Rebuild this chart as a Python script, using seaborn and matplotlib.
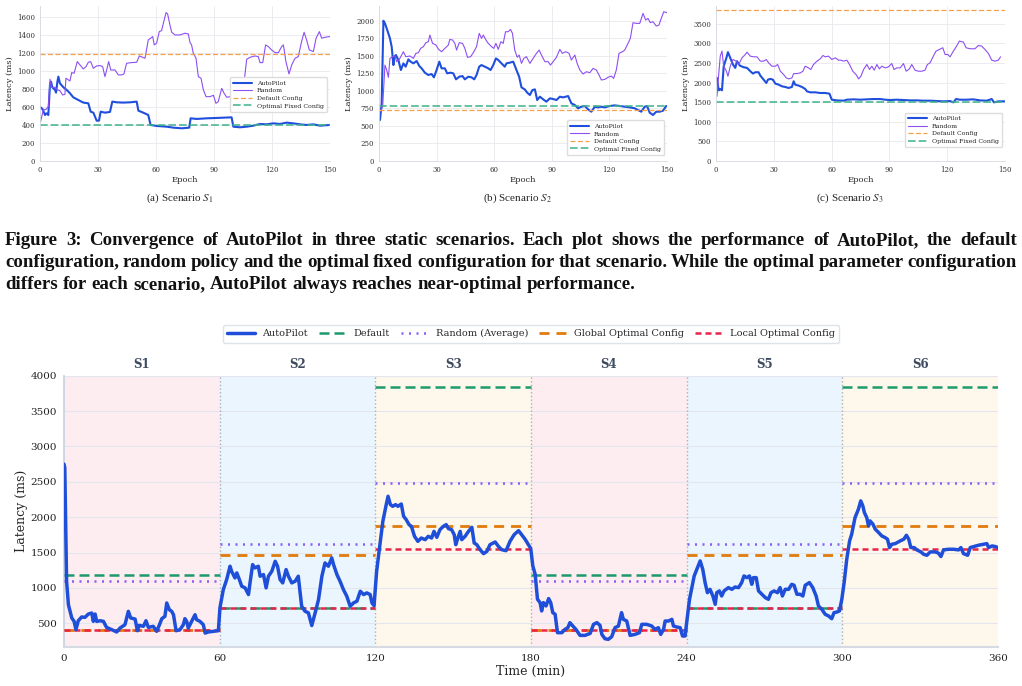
import seaborn as sns
import matplotlib.pyplot as plt
import pandas as pd

# ---- top row: three static scenarios (epoch 0..150) ----
a_auto_x = [0.3, 1.4, 2.6, 3.4, 4.3, 5.2, 5.7, 6.4, 7.8, 8.3, 9.0, 9.5, 10.3, 12.1, 13.8, 15.5, 17.2, 19.8, 22.4, 25.0,
            26.2, 27.6, 29.3, 30.5, 31.4, 33.6, 36.2, 37.4, 39.7, 43.1, 46.6, 50.0, 50.9, 53.4, 56.0, 57.2, 60.3, 65.5,
            69.0, 73.3, 77.2, 77.9, 81.0, 86.2, 91.4, 95.7, 99.1, 100.0, 103.4, 106.9, 110.3, 113.8, 117.2, 120.7,
            124.1, 127.6, 131.0, 134.5, 137.9, 141.4, 144.8, 147.4, 150]
a_auto_y = [598, 575, 512, 531, 512, 865, 883, 820, 791, 761, 883, 939, 865, 820, 791, 754, 709, 679, 650, 642,
            549, 538, 449, 449, 549, 538, 546, 661, 653, 650, 653, 661, 560, 538, 512, 401, 390, 382,
            371, 364, 371, 475, 468, 475, 479, 483, 486, 382, 375, 382, 393, 412, 408, 419,
            412, 427, 419, 408, 401, 408, 393, 397, 401]
a_rand_x = [0.3, 1.7, 3.1, 4.3, 5.2, 6.0, 7.8, 9.0, 10.3, 11.7, 12.9, 13.4, 14.7, 15.5, 16.4, 17.6, 19.3, 20.7, 22.4,
            23.8, 25.0, 26.2, 27.6, 29.3, 31.0, 32.4, 33.6, 34.5, 35.5, 36.6, 38.8, 40.5, 42.2, 43.4, 44.8, 47.4, 50.0,
            51.4, 53.1, 54.3, 56.0, 57.2, 58.3, 59.1, 60.3, 61.7, 62.9, 63.8, 65.2, 66.0, 67.2, 68.1, 69.8, 72.4, 75.0,
            76.7, 77.6, 78.4, 79.3, 80.7, 81.9, 83.3, 84.5, 85.9, 87.9, 89.7, 91.0, 92.2, 94.0, 95.2, 96.6, 98.3,
            100.0, 100.9, 102.6, 104.3, 105.7, 106.9, 108.6, 111.2, 112.9, 113.8, 115.2, 116.7, 118.1, 119.8, 121.6,
            123.3, 125.0, 125.9, 127.2, 128.8, 130.2, 131.9, 133.6, 135.3, 136.6, 137.9, 139.3, 141.4, 142.8, 144.5,
            145.7, 147.4, 150]
a_rand_y = [438, 568, 575, 605, 909, 820, 820, 791, 783, 735, 742, 921, 902, 891, 984, 976, 1106, 1069, 1025,
            1050, 1099, 1106, 1032, 1058, 1062, 1050, 939, 1013, 1106, 1013, 1013, 958, 958, 969, 1088, 1095, 1099,
            1169, 1154, 1143, 1347, 1366, 1385, 1292, 1310, 1440, 1451, 1533, 1652, 1637, 1515, 1433, 1403, 1403, 1422,
            1414, 1318, 1292, 1199, 1143, 939, 921, 791, 716, 716, 731, 642, 661, 809, 754, 709, 716,
            754, 809, 820, 820, 902, 1132, 1154, 1169, 1162, 1095, 1095, 1292, 1273, 1236, 1206,
            1206, 1273, 1292, 1106, 969, 1069, 1143, 1162, 1329, 1433, 1347, 1236, 1218, 1366, 1440,
            1366, 1377, 1385]

b_auto_x = [0.5, 1.4, 2.3, 3.1, 4.3, 5.7, 6.6, 7.5, 8.0, 8.8, 10.1, 11.4, 12.7, 13.9, 15.3, 16.5, 17.9, 19.6, 21.0,
            22.2, 23.9, 25.7, 27.4, 28.6, 30.0, 31.4, 32.6, 34.3, 35.5, 37.3, 38.7, 40.1, 41.8, 43.5, 44.7, 46.5, 48.2,
            49.6, 50.8, 52.2, 53.4, 55.1, 56.9, 58.1, 59.5, 60.9, 62.1, 63.8, 65.5, 66.4, 68.1, 69.9, 71.6, 73.0, 74.2,
            75.9, 77.2, 78.6, 79.9, 81.2, 82.4, 83.8, 85.5, 87.2, 89.0, 90.7, 92.4, 94.2, 95.9, 98.5, 100.2, 102.0,
            103.7, 105.4, 107.2, 108.9, 110.6, 112.4, 114.1, 115.8, 117.6, 120.2, 122.8, 125.4, 128.0, 130.6, 133.2,
            134.9, 136.6, 138.4, 139.6, 141.0, 142.7, 144.4, 146.2, 147.9, 149.6]
b_auto_y = [584, 822, 2000, 1962, 1867, 1748, 1630, 1368, 1487, 1511, 1440, 1297, 1392, 1345, 1449, 1416, 1392, 1425,
            1354, 1321, 1259, 1226, 1240, 1193, 1297, 1416, 1321, 1321, 1250, 1259, 1250, 1164, 1202, 1211, 1164, 1202,
            1193, 1164, 1226, 1345, 1368, 1345, 1321, 1297, 1368, 1463, 1440, 1392, 1345, 1392, 1402, 1416, 1297, 1202,
            1050, 1021, 974, 941, 1012, 1021, 869, 917, 879, 846, 893, 884, 869, 917, 907, 926, 822, 798,
            751, 774, 784, 736, 703, 774, 765, 774, 765, 784, 793, 784, 774, 765, 751,
            727, 703, 774, 784, 689, 656, 703, 703, 717, 784]
b_rand_x = [0.5, 1.9, 3.1, 4.0, 4.9, 5.7, 7.1, 8.3, 9.2, 10.6, 11.8, 12.7, 14.0, 16.1, 17.9, 19.2, 20.5, 21.7, 23.1,
            24.4, 25.7, 26.5, 27.9, 29.7, 31.0, 32.6, 34.3, 36.1, 36.9, 38.3, 39.5, 40.4, 41.8, 43.5, 44.7, 46.1, 47.7,
            49.1, 50.8, 52.2, 53.4, 54.3, 55.7, 56.9, 58.6, 59.8, 60.9, 62.1, 63.5, 64.7, 65.9, 67.3, 68.5, 69.5, 70.7,
            72.0, 73.0, 74.2, 75.4, 76.8, 78.6, 80.3, 82.0, 83.4, 84.6, 86.4, 88.1, 89.3, 90.7, 92.4, 94.2, 95.5,
            97.3, 99.0, 100.2, 102.0, 103.2, 104.6, 106.3, 108.0, 109.8, 111.5, 113.2, 114.6, 115.8, 117.6, 119.3,
            121.0, 122.2, 123.6, 125.0, 126.8, 128.0, 129.7, 130.9, 132.3, 134.0, 135.8, 137.5, 138.9, 140.1, 141.3,
            142.7, 144.4, 145.8, 147.0, 148.3, 150]
b_rand_y = [703, 774, 1368, 1297, 1193, 1463, 1487, 1497, 1416, 1449, 1511, 1558, 1487, 1497, 1463, 1535, 1544, 1606,
            1630, 1687, 1701, 1796, 1677, 1653, 1592, 1558, 1606, 1653, 1734, 1725, 1677, 1582, 1687, 1677, 1606, 1478,
            1487, 1544, 1630, 1820, 1748, 1796, 1725, 1677, 1630, 1606, 1677, 1592, 1701, 1677, 1843, 1843, 1877, 1820,
            1582, 1478, 1511, 1392, 1463, 1487, 1392, 1463, 1535, 1582, 1511, 1416, 1416, 1368, 1416, 1478, 1592,
            1535, 1558, 1535, 1440, 1511, 1392, 1297, 1240, 1273, 1259, 1321, 1297, 1226, 1155, 1164, 1193,
            1211, 1178, 1297, 1535, 1558, 1582, 1677, 1748, 1972, 1962, 1962, 2105, 2010, 2033, 1972,
            1986, 1924, 1938, 2033, 2128, 2114]

c_auto_x = [0.5, 1.4, 2.2, 3.1, 4.0, 5.4, 6.2, 7.4, 8.8, 10.0, 10.9, 12.3, 14.3, 16.1, 17.8, 19.2, 20.4, 22.1, 23.0,
            24.7, 26.1, 27.0, 28.2, 29.5, 30.8, 32.5, 34.2, 35.9, 37.7, 39.4, 40.3, 41.1, 42.9, 44.6, 46.3, 47.2, 48.9,
            51.5, 54.1, 56.7, 58.9, 60.1, 62.7, 66.2, 67.9, 71.4, 74.8, 78.3, 81.7, 85.2, 87.8, 90.4, 93.8, 97.3,
            100.7, 104.2, 107.7, 111.1, 114.6, 118.0, 121.5, 123.2, 124.6, 126.7, 130.1, 133.6, 137.0, 140.5, 143.1,
            144.3, 146.5, 150]
c_auto_y = [2117, 1801, 1835, 1801, 2416, 2629, 2774, 2629, 2459, 2373, 2544, 2433, 2390, 2373, 2288, 2228, 2262, 2262,
            2177, 2074, 1989, 2074, 2092, 2074, 1972, 1946, 1904, 1887, 1861, 1887, 2032, 1946, 1921, 1887, 1835, 1776,
            1750, 1750, 1733, 1733, 1716, 1562, 1545, 1537, 1562, 1571, 1562, 1571, 1579, 1579, 1562, 1554, 1562, 1554,
            1545, 1545, 1537, 1537, 1528, 1520, 1528, 1494, 1579, 1562, 1562, 1571, 1545, 1537, 1579,
            1494, 1520, 1520]
c_rand_x = [0.5, 1.4, 2.2, 3.1, 4.0, 5.4, 6.2, 7.4, 8.8, 10.5, 11.8, 13.5, 15.2, 16.1, 17.8, 19.5, 21.3, 23.0, 24.7,
            26.1, 27.3, 29.0, 30.8, 32.0, 33.4, 35.1, 36.5, 37.7, 39.4, 40.3, 42.0, 43.7, 45.1, 46.3, 48.0, 49.2, 50.6,
            52.4, 54.1, 55.5, 56.7, 58.4, 60.1, 61.9, 63.6, 64.8, 66.2, 67.9, 69.3, 71.0, 72.7, 74.0, 75.2, 76.6, 78.3,
            79.7, 80.9, 82.1, 83.5, 84.8, 86.1, 87.8, 89.5, 91.2, 92.4, 93.8, 95.6, 97.3, 98.7, 100.4, 101.6, 103.3,
            105.1, 106.8, 108.5, 109.7, 111.1, 112.8, 114.2, 116.0, 117.7, 118.9, 120.3, 121.5, 123.2, 124.9, 126.3,
            128.4, 129.8, 131.8, 134.4, 136.2, 137.9, 139.6, 141.4, 143.1, 144.8, 146.5, 147.7]
c_rand_y = [1648, 2203, 2672, 2800, 2416, 2288, 2160, 2416, 2587, 2544, 2459, 2629, 2715, 2774, 2672, 2655, 2655, 2544,
            2544, 2587, 2501, 2416, 2416, 2459, 2288, 2203, 2117, 2092, 2117, 2228, 2228, 2245, 2288, 2416, 2373, 2331,
            2459, 2544, 2604, 2689, 2655, 2672, 2587, 2629, 2570, 2570, 2544, 2570, 2459, 2288, 2203, 2092, 2160, 2331,
            2459, 2331, 2416, 2314, 2459, 2348, 2416, 2373, 2399, 2484, 2331, 2373, 2373, 2484, 2288, 2348, 2459,
            2314, 2288, 2288, 2314, 2459, 2501, 2672, 2800, 2843, 2886, 2715, 2715, 2655, 2800, 2928, 3056,
            3031, 2886, 2860, 2860, 2945, 2928, 2843, 2740, 2570, 2544, 2570, 2655]

top_default = [1190, 722, 3842]
top_optimal = [401, 779, 1503]
top_ylim = [1725, 2210, 3950]
top_captions = ['(a) Scenario $S_1$', '(b) Scenario $S_2$', '(c) Scenario $S_3$']

caption_lines = [
    'Figure 3: Convergence of AutoPilot in three static scenarios. Each plot shows the performance of AutoPilot, the default',
    'configuration, random policy and the optimal fixed configuration for that scenario. While the optimal parameter configuration',
    'differs for each scenario, AutoPilot always reaches near-optimal performance.',
]

# ---- bottom: dynamic run over six scenarios (minutes 0..360) ----
scenarios = ['S1', 'S2', 'S3', 'S4', 'S5', 'S6']
scen_start = [0, 60, 120, 180, 240, 300]
scen_end = [60, 120, 180, 240, 300, 360]
default_lat = [1185, 715, 3835, 1185, 715, 3835]
random_avg = [1105, 1620, 2480, 1105, 1620, 2480]
global_opt = [400, 1470, 1880, 400, 1470, 1880]
local_opt = [400, 715, 1545, 400, 715, 1545]

ap_t = [0, 0.3, 1.0, 1.7, 3.0, 3.9, 4.6, 5.5, 6.8, 8.1, 9.4, 10.7, 11.3, 12.0, 12.6, 13.9, 15.2, 16.4, 18.4, 20.3,
        21.6, 23.5, 24.8, 25.7, 27.4, 28.3, 29.0, 30.6, 31.6, 32.5, 34.4, 35.7, 36.8, 37.7, 38.9, 39.6, 40.6, 41.5,
        42.2, 43.2, 44.7, 46.0, 46.6, 47.3, 47.9, 49.2, 50.5, 51.1, 52.4, 53.7, 54.4, 55.6, 57.6, 59.5,
        60.1, 61.4, 62.7, 64.0, 64.6, 65.9, 66.6, 67.6, 68.5, 69.8, 71.1, 71.7, 72.7, 73.6, 74.9, 75.6, 76.9, 77.9,
        78.8, 80.1, 81.4, 82.3, 83.3, 84.3, 85.6, 86.5, 87.8, 89.1, 90.3, 91.6, 92.9, 94.2, 95.5, 96.8, 98.1, 99.4,
        100.6, 101.9, 103.2, 103.9, 105.2, 106.4, 107.7, 109.0, 110.3, 111.6, 112.9, 114.2, 115.5, 116.7, 118.0,
        118.7, 119.5,
        120.5, 121.6, 122.9, 124.2, 124.9, 125.8, 126.7, 127.8, 128.7, 130.0, 130.9, 131.9, 133.0, 133.9, 135.1,
        136.4, 137.7, 139.2, 140.4, 141.7, 142.6, 143.7, 144.9, 146.2, 147.3, 148.2, 149.4, 150.4, 151.0, 151.8,
        152.7, 153.3, 154.6, 155.9, 157.2, 158.1, 159.1, 160.4, 161.7, 163.0, 164.2, 166.2, 167.4, 168.7, 170.4,
        171.9, 173.5, 175.2, 176.4, 177.7, 179.9,
        180.7, 181.6, 182.5, 183.5, 184.1, 184.8, 185.8, 186.8, 187.6, 188.4, 189.3, 190.2, 191.9, 193.1, 194.2,
        195.0, 196.1, 197.3, 198.9, 200.8, 202.8, 204.1, 205.4, 206.6, 207.3, 208.5, 209.8, 211.1, 212.4, 213.7,
        214.9, 215.6, 216.9, 218.2, 220.1, 221.8, 222.7, 224.6, 226.5, 227.8, 229.1, 230.0, 231.1, 231.7, 233.0,
        234.3, 234.9, 236.2, 237.5, 238.4, 239.4,
        240.0, 241.1, 242.0, 242.9, 243.9, 245.2, 246.2, 247.1, 248.0, 249.0, 250.1, 251.0, 251.6, 252.6, 253.5,
        254.4, 256.1, 257.4, 258.7, 260.0, 261.2, 262.1, 263.2, 264.2, 265.1, 265.7, 266.8, 267.7, 269.0, 270.3,
        271.5, 272.5, 273.7, 275.0, 276.0, 276.9, 278.0, 279.3, 280.5, 281.4, 282.5, 283.7, 284.8, 285.7, 287.3,
        288.6, 289.9, 290.8, 292.1, 293.4, 294.7, 295.9, 296.8, 297.9, 298.9, 299.8,
        300.7, 301.7, 302.8, 303.6, 304.9, 306.2, 307.1, 307.9, 308.5, 309.4, 310.1, 310.7, 311.8, 312.7, 314.0,
        315.2, 316.5, 317.4, 318.2, 319.1, 320.4, 322.3, 323.7, 324.7, 325.6, 326.4, 327.7, 328.7, 330.3, 331.3,
        332.6, 333.9, 335.8, 337.1, 338.0, 339.0, 340.9, 342.9, 344.8, 345.7, 346.7, 348.3, 349.3, 350.6, 352.5,
        354.5, 355.7, 356.4, 357.7, 359.0, 360]
ap_lat = [2750, 2700, 1094, 764, 576, 528, 411, 537, 590, 585, 632, 646, 528, 632, 528, 537, 528, 443, 411, 378,
          434, 481, 670, 576, 561, 396, 472, 458, 537, 443, 458, 387, 481, 566, 599, 788, 693, 670,
          622, 396, 411, 481, 566, 528, 434, 528, 622, 552, 528, 481, 363, 378, 387, 396,
          718, 977, 1119, 1307, 1236, 1142, 1213, 1119, 1025, 1001, 907, 1072, 1330, 1283, 1307, 1166, 1189, 1001,
          1166, 1236, 1377, 1307, 1119, 1072, 1260, 1166, 1072, 1095, 1166, 742, 671, 648, 469, 648, 836, 1166,
          1354, 1307, 1424, 1330, 1189, 1095, 977, 883, 742, 789, 813, 954, 907, 930, 907,
          789, 751,
          1235, 1565, 1942, 2178, 2296, 2178, 2154, 2178, 2154, 2187, 2013, 1966, 1895, 1871, 1730,
          1659, 1706, 1683, 1730, 1706, 1800, 1716, 1824, 1871, 1895, 1838, 1824, 1753, 1612, 1706,
          1800, 1683, 1730, 1800, 1857, 1636, 1612, 1541, 1485, 1518, 1612, 1650, 1589, 1541, 1527,
          1659, 1753, 1810, 1753, 1690, 1557,
          1311, 1194, 840, 793, 675, 793, 746, 850, 793, 651, 628, 368, 368, 415, 439,
          510, 463, 415, 330, 330, 358, 486, 510, 472, 344, 283, 274, 311, 439, 463,
          651, 557, 533, 330, 344, 368, 486, 486, 463, 415, 439, 344, 415, 533, 533,
          557, 463, 448, 439, 321, 321,
          510, 840, 1005, 1170, 1264, 1382, 1264, 1076, 934, 981, 887, 769, 934, 958, 887,
          958, 1005, 981, 1014, 1005, 1076, 1170, 1146, 1170, 1052, 1146, 1146, 958, 911, 864,
          840, 934, 958, 934, 1005, 887, 981, 981, 1052, 1038, 911, 911, 887, 1038, 1076,
          1005, 887, 746, 698, 628, 604, 566, 651, 660, 675, 840,
          1076, 1406, 1665, 1759, 1995, 2113, 2231, 2160, 2066, 1995, 1877, 1948, 1901, 1830, 1783,
          1736, 1712, 1689, 1571, 1618, 1627, 1665, 1689, 1745, 1689, 1571, 1571, 1538, 1510, 1477,
          1462, 1510, 1510, 1491, 1444, 1538, 1547, 1547, 1538, 1571, 1486, 1462, 1571, 1585, 1604,
          1618, 1627, 1571, 1594, 1585, 1571]

scen_bg = ['#fdedf0', '#eaf5fd', '#fef7ec', '#fdedf0', '#eaf5fd', '#fef7ec']

sns.set_theme(style='whitegrid')
plt.rcParams['font.family'] = ['DejaVu Serif']
plt.rcParams['mathtext.fontset'] = 'stix'

fig = plt.figure(figsize=(10.22, 6.86), dpi=100)

top_lefts = [40, 379, 716]
top_widths = [290, 288, 289]
top_data = [(a_auto_x, a_auto_y, a_rand_x, a_rand_y),
            (b_auto_x, b_auto_y, b_rand_x, b_rand_y),
            (c_auto_x, c_auto_y, c_rand_x, c_rand_y)]
leg_locs = [('upper right', (1.0, 0.56)), ('lower right', (1.0, 0.02)), ('lower right', (1.0, 0.07))]
cap_x = [180, 517, 850]

for i in range(3):
    ax = fig.add_axes([top_lefts[i] / 1022, 1 - 161 / 686, top_widths[i] / 1022, 155 / 686])
    ax_x, ax_y, rx, ry = top_data[i]
    sns.lineplot(x=ax_x, y=ax_y, ax=ax, color='#1f4fdc', lw=1.5, label='AutoPilot', estimator=None)
    sns.lineplot(x=rx, y=ry, ax=ax, color='#8d4ff2', lw=0.8, label='Random', estimator=None)
    ax.axhline(top_default[i], color='#f5a04a', ls=(0, (4, 2)), lw=0.9, label='Default Config')
    ax.axhline(top_optimal[i], color='#3db389', ls=(0, (5, 2)), lw=1.1, label='Optimal Fixed Config')
    ax.set_xlim(0, 150)
    ax.set_ylim(0, top_ylim[i])
    ax.set_xticks(range(0, 151, 30))
    ax.tick_params(labelsize=5, length=2, pad=1.5, colors='#333333')
    ax.set_xlabel('Epoch', fontsize=6, labelpad=1.5)
    ax.set_ylabel('Latency (ms)', fontsize=6, labelpad=2)
    ax.grid(color='#e8e8ee', lw=0.6)
    for s in ['top', 'right']:
        ax.spines[s].set_visible(False)
    for s in ['left', 'bottom']:
        ax.spines[s].set_color('#d8d8e0')
        ax.spines[s].set_linewidth(0.6)
    loc, anchor = leg_locs[i]
    ax.legend(loc=loc, bbox_to_anchor=anchor, fontsize=4.5, handlelength=3, frameon=True,
              framealpha=1, edgecolor='#dddddd', borderpad=0.5, labelspacing=0.35)
    fig.text(cap_x[i] / 1022, 1 - 198 / 686, top_captions[i], ha='center', va='center',
             fontsize=8, family='Liberation Serif')

# figure caption, lines 1-2 justified to the full width like the paper
renderer = fig.canvas.get_renderer()
cap_left, cap_right = 5, 1017
cap_size = 13.6
for k, line in enumerate(caption_lines):
    y = 1 - (245 + 22 * k) / 686
    words = line.split(' ')
    texts = [fig.text(0, y, w, ha='left', va='baseline', fontsize=cap_size, fontweight='bold',
                      family='Liberation Serif', color='#111111') for w in words]
    widths = [t.get_window_extent(renderer).width for t in texts]
    if k < len(caption_lines) - 1:
        gap = (cap_right - cap_left - sum(widths)) / (len(words) - 1)
    else:
        gap = 0.25 * cap_size * 100 / 72
    x = cap_left
    for t, w in zip(texts, widths):
        t.set_x(x / 1022)
        x += w + gap

# ---- bottom chart ----
ax = fig.add_axes([64 / 1022, 1 - 646.7 / 686, 934 / 1022, 271 / 686])
for k in range(len(scenarios)):
    ax.axvspan(scen_start[k], scen_end[k], color=scen_bg[k], lw=0, zorder=0)
    ax.text((scen_start[k] + scen_end[k]) / 2, 1.04, scenarios[k], transform=ax.get_xaxis_transform(),
            ha='center', va='center', fontsize=8.5, fontweight='bold', color='#3d4a5f')
for b in scen_start[1:]:
    ax.axvline(b, color='#a9afbb', ls=':', lw=1, zorder=1)

ax.hlines(default_lat, scen_start, scen_end, colors='#1d9a6c', linestyles=(0, (4, 2)), lw=1.8,
          label='Default', zorder=3)
ax.hlines(random_avg, scen_start, scen_end, colors='#8b5cf6', linestyles=(0, (0.8, 2.2)), lw=1.8,
          label='Random (Average)', zorder=3)
ax.hlines(global_opt, scen_start, scen_end, colors='#e07b0c', linestyles=(0, (3.6, 2.5)), lw=2.0,
          label='Global Optimal Config', zorder=3)
ax.hlines(local_opt, scen_start, scen_end, colors='#e8244a', linestyles=(0, (2.4, 1.6)), lw=1.8,
          label='Local Optimal Config', zorder=3)

df = pd.DataFrame({'t': ap_t, 'lat': ap_lat})
sns.lineplot(data=df, x='t', y='lat', ax=ax, color='#1f4fd8', lw=2.5, label='AutoPilot', estimator=None, zorder=4)

ax.set_xlim(0, 360)
ax.set_ylim(170, 4000)
ax.set_xticks(range(0, 361, 60))
ax.set_yticks(range(500, 4001, 500))
ax.grid(axis='x', visible=False)
ax.grid(axis='y', color='#e3e6ec', lw=0.8)
ax.tick_params(labelsize=7.5, length=3, pad=2, colors='#222222')
ax.tick_params(axis='both', color='#555555')
ax.set_xlabel('Time (min)', fontsize=9, labelpad=2)
ax.set_ylabel('Latency (ms)', fontsize=9, labelpad=2)
for s in ['top', 'right']:
    ax.spines[s].set_visible(False)
ax.spines['left'].set_color('#c9d3e0')
ax.spines['bottom'].set_color('#d6dbe3')
ax.spines['bottom'].set_linewidth(1.5)

h, l = ax.get_legend_handles_labels()
order = ['AutoPilot', 'Default', 'Random (Average)', 'Global Optimal Config', 'Local Optimal Config']
hm = dict(zip(l, h))
ax.legend([hm[o] for o in order], order, loc='center', bbox_to_anchor=(0.5, 1 + 42 / 271), ncol=5,
          fontsize=7, frameon=True, framealpha=1, edgecolor='#dde3ea', handlelength=2.8,
          columnspacing=1.1, borderpad=0.45)

plt.savefig('out.png', dpi=100)
